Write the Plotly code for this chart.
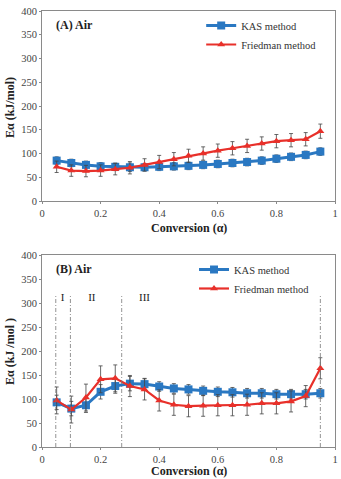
import plotly.graph_objects as go

conversion = [0.05, 0.10, 0.15, 0.20, 0.25, 0.30, 0.35, 0.40, 0.45, 0.50,
              0.55, 0.60, 0.65, 0.70, 0.75, 0.80, 0.85, 0.90, 0.95]

# Panel A
kas_a = [85, 80, 76, 73, 72, 71, 71, 72, 73, 74, 76, 78, 80, 82, 85, 89, 93, 97, 104]
kas_a_err = [8, 8, 8, 8, 8, 9, 8, 8, 8, 8, 8, 8, 8, 8, 8, 8, 8, 8, 8]
fri_a = [72, 64, 63, 64, 67, 70, 76, 82, 88, 95, 100, 106, 111, 116, 121, 126, 128, 130, 147]
fri_a_err = [12, 12, 12, 12, 12, 13, 13, 14, 14, 14, 14, 14, 14, 14, 14, 14, 14, 14, 15]

# Panel B
kas_b = [93, 80, 87, 115, 127, 132, 131, 126, 122, 120, 117, 115, 114, 112, 112, 110, 110, 110, 112]
kas_b_err = [15, 15, 15, 15, 15, 15, 12, 10, 10, 10, 10, 10, 10, 10, 10, 10, 10, 10, 10]
fri_b = [97, 78, 103, 141, 143, 127, 120, 97, 88, 85, 86, 87, 87, 88, 91, 91, 95, 106, 164]
fri_b_err = [28, 28, 28, 28, 28, 22, 22, 22, 22, 22, 22, 22, 22, 22, 22, 22, 22, 22, 22]

stage_bounds = [0.047, 0.097, 0.272, 0.95]
stage_labels = ["I", "II", "III"]
stage_label_x = [0.07, 0.17, 0.35]
stage_label_y = 310

x_ticks = [0, 0.2, 0.4, 0.6, 0.8, 1]
x_ticktext = ["0", "0.2", "0.4", "0.6", "0.8", "1"]
y_ticks = [0, 50, 100, 150, 200, 250, 300, 350, 400]

BLUE = "#2a78c2"
RED = "#e8302a"
ERR = "#444444"
FONT = "Liberation Serif, Times New Roman, serif"

fig = go.Figure()

def add_panel(xa, ya, kas, kas_err, fri, fri_err, legend):
    fig.add_trace(go.Scatter(
        x=conversion, y=kas, xaxis=xa, yaxis=ya, name="KAS method",
        mode="lines+markers", line=dict(color=BLUE, width=3),
        marker=dict(symbol="square", size=8, color=BLUE),
        error_y=dict(type="data", array=kas_err, color=ERR, thickness=0.8, width=2),
        legend=legend))
    fig.add_trace(go.Scatter(
        x=conversion, y=fri, xaxis=xa, yaxis=ya, name="Friedman method",
        mode="lines+markers", line=dict(color=RED, width=2.2),
        marker=dict(symbol="triangle-up", size=7, color=RED),
        error_y=dict(type="data", array=fri_err, color=ERR, thickness=0.8, width=2),
        legend=legend))

add_panel("x", "y", kas_a, kas_a_err, fri_a, fri_a_err, "legend")
add_panel("x2", "y2", kas_b, kas_b_err, fri_b, fri_b_err, "legend2")

# stage boundary lines
vx, vy = [], []
for b in stage_bounds:
    vx += [b, b, None]
    vy += [0, 315, None]
fig.add_trace(go.Scatter(x=vx, y=vy, xaxis="x2", yaxis="y2", mode="lines",
                         line=dict(color="#777777", width=0.8, dash="4px,2px,1px,2px"),
                         showlegend=False, hoverinfo="skip"))
fig.add_trace(go.Scatter(x=stage_label_x, y=[stage_label_y] * 3, xaxis="x2", yaxis="y2",
                         mode="text", text=stage_labels,
                         textfont=dict(family=FONT, size=11, color="#222"),
                         showlegend=False, hoverinfo="skip"))

axis_common = dict(showline=True, linecolor="#8a8a8a", linewidth=1, mirror=True,
                   showgrid=False, zeroline=False, ticks="outside", ticklen=2,
                   tickcolor="#8a8a8a", automargin=False,
                   tickfont=dict(family=FONT, size=10.5, color="#444"))

title_font = dict(family=FONT, size=12, color="#222")
xdom = [42 / 341, 335 / 341]


def py(px):
    return 1 - px / 479


fig.update_layout(
    width=341, height=479, margin=dict(l=0, r=0, t=0, b=0, autoexpand=False),
    paper_bgcolor="white", plot_bgcolor="white",
    font=dict(family=FONT),
    showlegend=True,
    xaxis=dict(domain=xdom, anchor="y", range=[0, 1], tickvals=x_ticks, ticktext=x_ticktext,
               **axis_common),
    yaxis=dict(domain=[py(201), py(11)], anchor="x", range=[0, 400], tickvals=y_ticks,
               **axis_common),
    xaxis2=dict(domain=xdom, anchor="y2", range=[0, 1], tickvals=x_ticks, ticktext=x_ticktext,
                **axis_common),
    yaxis2=dict(domain=[py(447), py(255)], anchor="x2", range=[0, 400], tickvals=y_ticks,
                **axis_common),
    legend=dict(x=0.59, y=py(11), xanchor="left", yanchor="top",
                font=dict(family=FONT, size=10.5, color="#333"), bgcolor="rgba(0,0,0,0)",
                tracegroupgap=0, itemwidth=30),
    legend2=dict(x=0.569, y=py(255), xanchor="left", yanchor="top",
                 font=dict(family=FONT, size=10.5, color="#333"), bgcolor="rgba(0,0,0,0)",
                 tracegroupgap=0, itemwidth=30),
    annotations=[
        dict(text="<b>(A) Air</b>", xref="paper", yref="paper", x=54 / 341, y=py(25),
             xanchor="left", yanchor="middle", showarrow=False,
             font=dict(family=FONT, size=12, color="#222")),
        dict(text="<b>(B) Air</b>", xref="paper", yref="paper", x=54 / 341, y=py(269),
             xanchor="left", yanchor="middle", showarrow=False,
             font=dict(family=FONT, size=12, color="#222")),
        dict(text="<b>Conversion (α)</b>", xref="paper", yref="paper", x=189 / 341, y=py(228),
             xanchor="center", yanchor="middle", showarrow=False, font=title_font),
        dict(text="<b>Conversion (α)</b>", xref="paper", yref="paper", x=189 / 341, y=0,
             xanchor="center", yanchor="bottom", showarrow=False, borderpad=0, font=title_font),
        dict(text="<b>Eα (kJ/mol)</b>", xref="paper", yref="paper", x=10 / 341, y=py(108),
             xanchor="center", yanchor="middle", showarrow=False, textangle=-90, font=title_font),
        dict(text="<b>Eα (kJ /mol )</b>", xref="paper", yref="paper", x=10 / 341, y=py(352),
             xanchor="center", yanchor="middle", showarrow=False, textangle=-90, font=title_font),
    ],
)

fig.write_html("out.html")
